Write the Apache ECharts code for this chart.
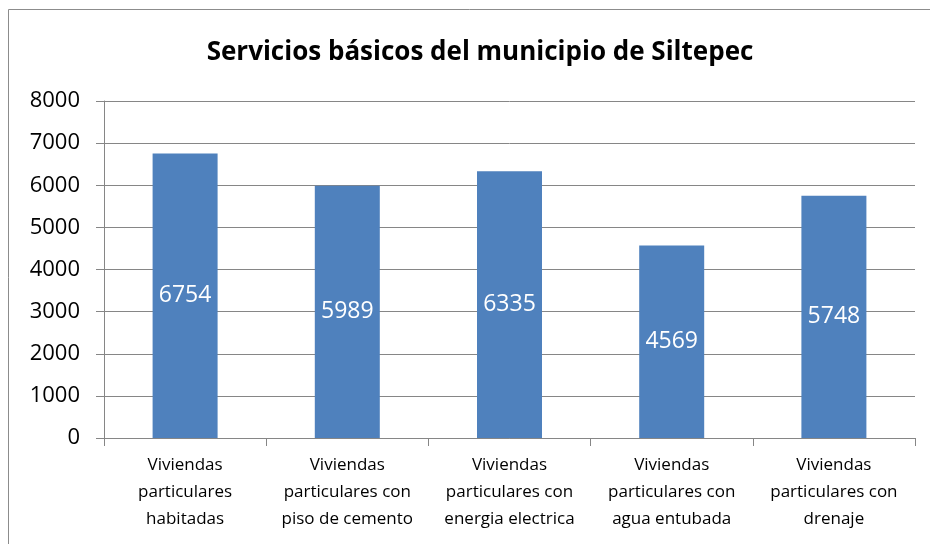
<!DOCTYPE html>
<html>
<head>
  <meta charset="utf-8" />
  <title>Servicios básicos</title>
  <script src="https://cdn.jsdelivr.net/npm/echarts@6/dist/echarts.min.js"></script>
</head>
<style type="text/css">
  body { margin: 0; background: #fff; }
  #main { width: 930px; height: 544px; }
</style>
<body>
  <div id="main"></div>
  <script>
    var categories = [
      'Viviendas\nparticulares\nhabitadas',
      'Viviendas\nparticulares con\npiso de cemento',
      'Viviendas\nparticulares con\nenergia electrica',
      'Viviendas\nparticulares con\nagua entubada',
      'Viviendas\nparticulares con\ndrenaje'
    ];
    var values = [6754, 5989, 6335, 4569, 5748];

    var myChart = echarts.init(document.getElementById('main'));
    var fontFamily = 'Open Sans, Noto Sans, sans-serif';

    var option = {
      animation: false,
      title: {
        text: 'Servicios básicos del municipio de Siltepec',
        left: 475,
        textAlign: 'center',
        top: 35,
        textStyle: { fontSize: 26, fontWeight: 'bold', color: '#000', fontFamily: fontFamily }
      },
      graphic: [{
        type: 'rect',
        shape: { x: 8.5, y: 9.5, width: 940, height: 560 },
        style: { fill: 'none', stroke: '#8c8c8c', lineWidth: 1 }
      }],
      grid: { left: 104, right: 15, top: 101, bottom: 106 },
      xAxis: {
        type: 'category',
        data: categories,
        axisLine: { lineStyle: { color: '#868686' } },
        axisTick: { show: true, length: 8, lineStyle: { color: '#868686' } },
        axisLabel: { color: '#000', fontSize: 17, lineHeight: 27, margin: 14, fontFamily: fontFamily, interval: 0 }
      },
      yAxis: {
        type: 'value',
        min: 0,
        max: 8000,
        interval: 1000,
        axisLine: { show: true, lineStyle: { color: '#868686' } },
        axisTick: { show: true, length: 8, lineStyle: { color: '#868686' } },
        splitLine: { lineStyle: { color: '#868686' } },
        axisLabel: {
          color: '#000', fontSize: 22, margin: 24, fontFamily: fontFamily,
          formatter: function (v) { return String(v); }
        }
      },
      series: [{
        type: 'bar',
        data: values,
        barWidth: 65,
        itemStyle: { color: '#4f81bd' },
        label: {
          show: true,
          position: 'inside',
          color: '#fff',
          fontSize: 23,
          fontFamily: fontFamily
        }
      }]
    };
    myChart.setOption(option);
  </script>
</body>
</html>
